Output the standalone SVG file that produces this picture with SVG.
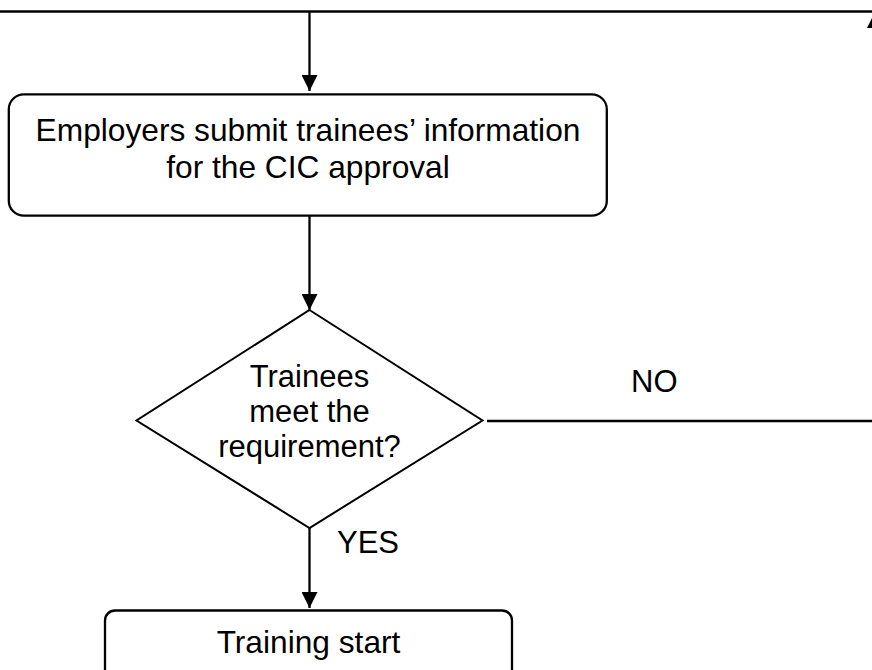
<svg xmlns="http://www.w3.org/2000/svg" width="872" height="670" viewBox="0 0 872 670">
<style>
.box{fill:#fff;stroke:#000;stroke-width:2.3}
.dia{fill:#fff;stroke:#000;stroke-width:2}
.con{fill:none;stroke:#000;stroke-width:2.3}
.t{font-family:"Liberation Sans",Arial,sans-serif;font-size:31px;fill:#000;text-anchor:middle}
.tb{font-family:"Liberation Sans",Arial,sans-serif;font-size:31.7px;fill:#000;text-anchor:middle}
.l{font-family:"Liberation Sans",Arial,sans-serif;font-size:31px;fill:#000}
</style>
<defs>
<marker id="ah" viewBox="0 0 16 16" refX="16" refY="8" markerWidth="16" markerHeight="16" markerUnits="userSpaceOnUse" orient="auto">
<path d="M0,0 L16,8 L0,16 z" fill="#000"/>
</marker>
</defs>
<rect width="872" height="670" fill="#fff"/>
<g id="connectors">
<path class="con" d="M0,11.5 H872"/>
<path class="con" d="M309.5,11.5 V91" marker-end="url(#ah)"/>
<path class="con" d="M309.5,216 V310" marker-end="url(#ah)"/>
<path class="con" d="M309.5,528 V608" marker-end="url(#ah)"/>
<path class="con" d="M487,421 H875 V12" marker-end="url(#ah)"/>
<text class="l" x="631" y="392">NO</text>
<text class="l" x="337" y="553">YES</text>
</g>
<g id="submit">
<rect class="box" x="8.8" y="94.3" width="598" height="121.4" rx="15" ry="15"/>
<text class="tb" x="308" y="140.5">Employers submit trainees’ information</text>
<text class="tb" x="308" y="178">for the CIC approval</text>
</g>
<g id="decision">
<polygon class="dia" points="309.5,310 482.5,420.5 309.5,528 136.5,420.5"/>
<text class="t" x="309.5" y="387">Trainees</text>
<text class="t" x="309.5" y="422">meet the</text>
<text class="t" x="309.5" y="457">requirement?</text>
</g>
<g id="training">
<rect class="box" x="105" y="610.5" width="407" height="80" rx="10" ry="10"/>
<text class="tb" x="308.5" y="653">Training start</text>
</g>
</svg>
